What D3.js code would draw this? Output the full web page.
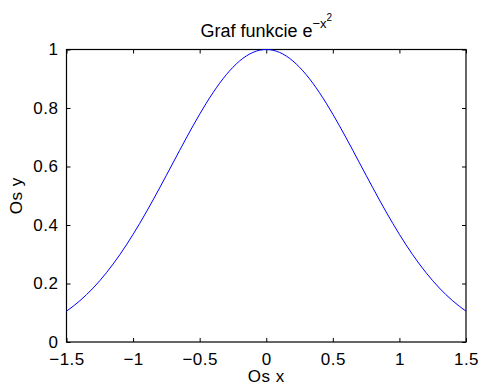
<!DOCTYPE html>
<html>
<head>
<meta charset="utf-8">
<script src="https://cdn.jsdelivr.net/npm/d3@7"></script>
<style>
  html, body { margin: 0; padding: 0; background: #fff; }
  svg { display: block; font-family: "Liberation Sans", Arial, Helvetica, sans-serif; }
</style>
</head>
<body>
<svg id="chart" width="480" height="383"></svg>
<script>
// Sampled curve: x positions and the corresponding y = e^(-x^2) readings
const xValues = [
  -1.5, -1.45, -1.4, -1.35, -1.3, -1.25, -1.2, -1.15, -1.1, -1.05,
  -1.0, -0.95, -0.9, -0.85, -0.8, -0.75, -0.7, -0.65, -0.6, -0.55,
  -0.5, -0.45, -0.4, -0.35, -0.3, -0.25, -0.2, -0.15, -0.1, -0.05,
  0.0, 0.05, 0.1, 0.15, 0.2, 0.25, 0.3, 0.35, 0.4, 0.45,
  0.5, 0.55, 0.6, 0.65, 0.7, 0.75, 0.8, 0.85, 0.9, 0.95,
  1.0, 1.05, 1.1, 1.15, 1.2, 1.25, 1.3, 1.35, 1.4, 1.45, 1.5
];
const yValues = [
  0.1054, 0.1222, 0.1409, 0.1616, 0.1845, 0.2096, 0.2369, 0.2665, 0.2982, 0.3321,
  0.3679, 0.4056, 0.4449, 0.4855, 0.5273, 0.5698, 0.6126, 0.6554, 0.6977, 0.7390,
  0.7788, 0.8167, 0.8521, 0.8847, 0.9139, 0.9394, 0.9608, 0.9778, 0.9900, 0.9975,
  1.0000, 0.9975, 0.9900, 0.9778, 0.9608, 0.9394, 0.9139, 0.8847, 0.8521, 0.8167,
  0.7788, 0.7390, 0.6977, 0.6554, 0.6126, 0.5698, 0.5273, 0.4855, 0.4449, 0.4056,
  0.3679, 0.3321, 0.2982, 0.2665, 0.2369, 0.2096, 0.1845, 0.1616, 0.1409, 0.1222, 0.1054
];

const xTicks = [-1.5, -1, -0.5, 0, 0.5, 1, 1.5];
const xTickLabels = ["\u22121.5", "\u22121", "\u22120.5", "0", "0.5", "1", "1.5"];
const yTicks = [0, 0.2, 0.4, 0.6, 0.8, 1];
const yTickLabels = ["0", "0.2", "0.4", "0.6", "0.8", "1"];

const margin = { left: 66.5, right: 14, top: 49.5, bottom: 41 };
const W = 480, H = 383;
const svg = d3.select("#chart");

const x = d3.scaleLinear().domain([-1.5, 1.5]).range([margin.left, W - margin.right]);
const y = d3.scaleLinear().domain([0, 1]).range([H - margin.bottom, margin.top]);

const tickLen = 4;
const fontSize = 17;

function styleAxis(g) {
  g.select(".domain").remove();
  g.selectAll(".tick line").attr("stroke", "#000").attr("stroke-width", 1);
  g.selectAll(".tick text")
    .attr("fill", "#000")
    .style("font-size", fontSize + "px")
    .style("letter-spacing", "0.5px");
}

// bottom axis with labels
svg.append("g")
  .attr("transform", `translate(0,${y(0)})`)
  .call(d3.axisBottom(x).tickValues(xTicks)
    .tickFormat((d, i) => xTickLabels[i])
    .tickSizeInner(-tickLen).tickSizeOuter(0).tickPadding(11))
  .call(styleAxis);

// top axis, ticks only
svg.append("g")
  .attr("transform", `translate(0,${y(1)})`)
  .call(d3.axisTop(x).tickValues(xTicks).tickFormat("")
    .tickSizeInner(-tickLen).tickSizeOuter(0))
  .call(styleAxis);

// left axis with labels
svg.append("g")
  .attr("transform", `translate(${x(-1.5)},0)`)
  .call(d3.axisLeft(y).tickValues(yTicks)
    .tickFormat((d, i) => yTickLabels[i])
    .tickSizeInner(-tickLen).tickSizeOuter(0).tickPadding(8))
  .call(styleAxis);

// right axis, ticks only
svg.append("g")
  .attr("transform", `translate(${x(1.5)},0)`)
  .call(d3.axisRight(y).tickValues(yTicks).tickFormat("")
    .tickSizeInner(-tickLen).tickSizeOuter(0))
  .call(styleAxis);

// frame
svg.append("rect")
  .attr("x", x(-1.5)).attr("y", y(1))
  .attr("width", x(1.5) - x(-1.5)).attr("height", y(0) - y(1))
  .attr("fill", "none").attr("stroke", "#000").attr("stroke-width", 1.2);

// curve
const pts = xValues.map((v, i) => [v, yValues[i]]);
const line = d3.line()
  .x(d => x(d[0]))
  .y(d => y(d[1]))
  .curve(d3.curveMonotoneX);
svg.append("path")
  .datum(pts)
  .attr("fill", "none")
  .attr("stroke", "#0000ff")
  .attr("stroke-width", 1)
  .attr("d", line);

// title with superscript exponent
const title = svg.append("text")
  .attr("x", (x(-1.5) + x(1.5)) / 2)
  .attr("y", 36.5)
  .attr("text-anchor", "middle")
  .style("font-size", "18px")
  .attr("fill", "#000");
title.append("tspan").text("Graf funkcie e");
title.append("tspan").attr("dy", -9).style("font-size", "13px").text("\u2212x");
title.append("tspan").attr("dy", -7).style("font-size", "10px").text("2");

// axis titles
svg.append("text")
  .attr("x", (x(-1.5) + x(1.5)) / 2)
  .attr("y", 382)
  .attr("text-anchor", "middle")
  .style("font-size", fontSize + "px")
  .style("letter-spacing", "0.5px")
  .attr("fill", "#000")
  .text("Os x");

svg.append("text")
  .attr("transform", `translate(22,${(y(0) + y(1)) / 2}) rotate(-90)`)
  .attr("text-anchor", "middle")
  .style("font-size", fontSize + "px")
  .style("letter-spacing", "0.5px")
  .attr("fill", "#000")
  .text("Os y");
</script>
</body>
</html>
